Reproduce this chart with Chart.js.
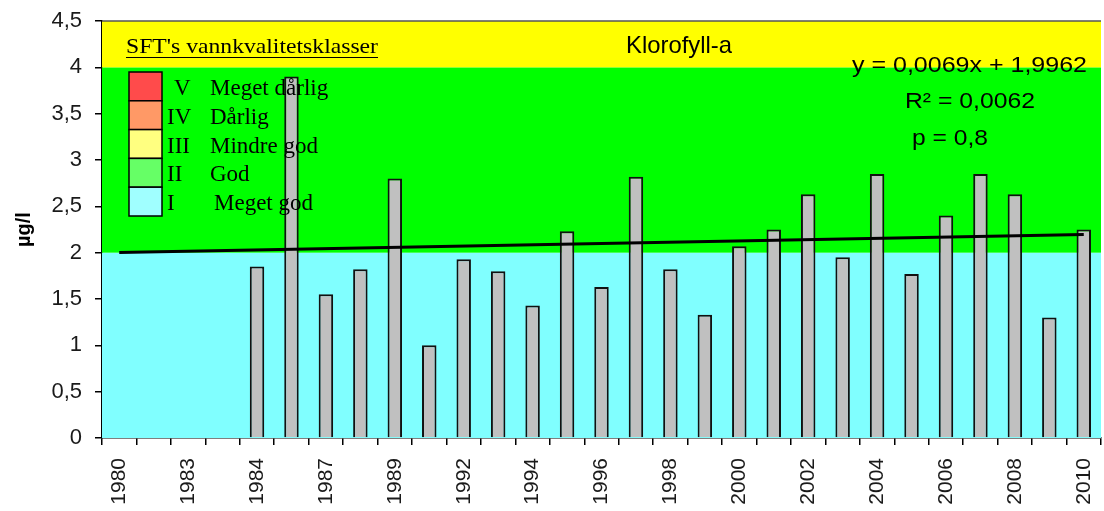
<!DOCTYPE html>
<html>
<head>
<meta charset="utf-8">
<script src="https://cdn.jsdelivr.net/npm/chart.js@4.4.1/dist/chart.umd.min.js"></script>
<style>
  html, body { margin: 0; padding: 0; background: #fff; }
  #wrap { width: 1104px; height: 511px; }
</style>
</head>
<body>
<div id="wrap"><canvas id="chart"></canvas></div>
<script>
// Sampling years (only every second one gets a label on the axis)
const years = ['1980', '1982', '1983', '1983', '1984', '1986', '1987', '1988', '1989', '1991',
    '1992', '1993', '1994', '1995', '1996', '1997', '1998', '1999', '2000', '2001',
    '2002', '2003', '2004', '2005', '2006', '2007', '2008', '2009', '2010'];

// Klorofyll-a, µg/l (no samples the first years)
const klorofyll = [null, null, null, null, 1.85, 3.9, 1.55, 1.82, 2.8, 1.0,
    1.93, 1.8, 1.43, 2.23, 1.63, 2.82, 1.82, 1.33, 2.07, 2.25,
    2.63, 1.95, 2.85, 1.77, 2.4, 2.85, 2.63, 1.3, 2.25];

// Linear trend, x = 1..n
const trendSlope = 0.0069;
const trendIntercept = 1.9962;
const trendText = ['y = 0,0069x + 1,9962', 'R² = 0,0062', 'p = 0,8'];

// Quality class bands behind the bars
const bandFrom = [0, 2, 4];
const bandTo = [2, 4, 4.5];
const bandColors = ['#80FFFF', '#00FF00', '#FFFF00'];

// SFT class legend
const classNumerals = ['V', 'IV', 'III', 'II', 'I'];
const classNames = ['Meget dårlig', 'Dårlig', 'Mindre god', 'God', 'Meget god'];
const classColors = ['#FF4B4B', '#FF9966', '#FFFF80', '#66FF66', '#A0FFFF'];

const trendData = years.map((_, i) =>
    (i === 0 || i === years.length - 1) ? trendSlope * (i + 1) + trendIntercept : null);

// draw text squeezed/stretched to a given width
function fitText(ctx, text, x, y, width) {
    const w = ctx.measureText(text).width;
    ctx.save();
    ctx.translate(x, y);
    ctx.scale(width / w, 1);
    ctx.fillText(text, 0, 0);
    ctx.restore();
}

const bandsPlugin = {
    id: 'bands',
    beforeDatasetsDraw(chart) {
        const { ctx, chartArea: a, scales: { y } } = chart;
        ctx.save();
        for (let i = 0; i < bandColors.length; i++) {
            const top = y.getPixelForValue(bandTo[i]);
            const bottom = y.getPixelForValue(bandFrom[i]);
            ctx.fillStyle = bandColors[i];
            ctx.fillRect(a.left, top, a.right - a.left, bottom - top);
        }
        // top frame line
        ctx.strokeStyle = '#555';
        ctx.lineWidth = 1.5;
        ctx.beginPath();
        ctx.moveTo(a.left, a.top);
        ctx.lineTo(a.right, a.top);
        ctx.stroke();
        ctx.restore();
    }
};

const notesPlugin = {
    id: 'notes',
    afterDatasetsDraw(chart) {
        const { ctx, chartArea: a } = chart;
        ctx.save();
        ctx.fillStyle = '#000';
        ctx.textBaseline = 'alphabetic';
        ctx.textAlign = 'left';

        // legend heading
        ctx.font = '22px "Liberation Serif"';
        const hx = a.left + 24;
        fitText(ctx, "SFT's vannkvalitetsklasser", hx, 53, 252);
        ctx.strokeStyle = '#000';
        ctx.lineWidth = 1;
        ctx.beginPath();
        ctx.moveTo(hx, 57.5);
        ctx.lineTo(hx + 252, 57.5);
        ctx.stroke();

        // class swatches
        const sx = a.left + 27, sw = 33, sh = 28.8, sy = 72;
        for (let i = 0; i < classNames.length; i++) {
            const top = sy + i * sh;
            ctx.fillStyle = classColors[i];
            ctx.fillRect(sx, top, sw, sh);
            ctx.strokeStyle = '#000';
            ctx.lineWidth = 1.5;
            ctx.strokeRect(sx, top, sw, sh);
            ctx.fillStyle = '#000';
            ctx.font = '23px "Liberation Serif"';
            const base = top + 23;
            ctx.fillText(classNumerals[i], i === 0 ? sx + 45 : sx + 38, base);
            ctx.fillText(classNames[i], i === 4 ? sx + 85 : sx + 81, base);
        }

        // parameter name
        ctx.font = '24px "Liberation Sans"';
        fitText(ctx, 'Klorofyll-a', 626, 53, 106);

        // trend statistics
        ctx.font = '22px "Liberation Sans"';
        fitText(ctx, trendText[0], 852, 72, 235);
        fitText(ctx, trendText[1], 905, 108, 130);
        fitText(ctx, trendText[2], 912, 145, 76);
        ctx.restore();
    }
};

new Chart(document.getElementById('chart'), {
    data: {
        labels: years,
        datasets: [
            {
                type: 'line',
                data: trendData,
                borderColor: '#000',
                borderWidth: 3,
                pointRadius: 0,
                spanGaps: true,
                order: 0,
            },
            {
                type: 'bar',
                data: klorofyll,
                backgroundColor: '#C0C0C0',
                borderColor: '#111',
                borderWidth: 2,
                barPercentage: 0.42,
                categoryPercentage: 1,
                order: 1,
            }
        ]
    },
    plugins: [bandsPlugin, notesPlugin],
    options: {
        responsive: true,
        maintainAspectRatio: false,
        animation: false,
        layout: { padding: { top: 21, right: 3, left: 0, bottom: 0 } },
        plugins: {
            legend: { display: false },
            tooltip: { enabled: false },
        },
        scales: {
            x: {
                afterFit: (scale) => {
                    scale.height = 73;
                    scale.paddingLeft = 0;
                    scale.paddingRight = 0;
                },
                grid: { offset: true, drawOnChartArea: false, tickLength: 7, color: '#000', lineWidth: 1.5 },
                border: { color: '#000', width: 1.5 },
                ticks: {
                    autoSkip: false,
                    maxRotation: 90,
                    minRotation: 90,
                    padding: 13,
                    color: '#1a1a1a',
                    font: { family: 'Liberation Sans', size: 21 },
                    callback: (v, i) => (i % 2 === 0 ? years[i] : ''),
                },
            },
            y: {
                min: 0,
                max: 4.5,
                afterFit: (scale) => {
                    scale.width = 102;
                    scale.paddingTop = 0;
                    scale.paddingBottom = 0;
                },
                grid: { drawOnChartArea: false, tickLength: 7, color: '#000', lineWidth: 1.5 },
                border: { color: '#000', width: 1.5 },
                ticks: {
                    stepSize: 0.5,
                    padding: 13,
                    color: '#1a1a1a',
                    font: { family: 'Liberation Sans', size: 22 },
                    callback: (v) => String(v).replace('.', ','),
                },
                title: {
                    display: true,
                    text: 'µg/l',
                    color: '#000',
                    padding: { top: 12, bottom: 0 },
                    font: { family: 'Liberation Sans', size: 20, weight: 'bold' },
                },
            },
        },
    },
});
</script>
</body>
</html>
